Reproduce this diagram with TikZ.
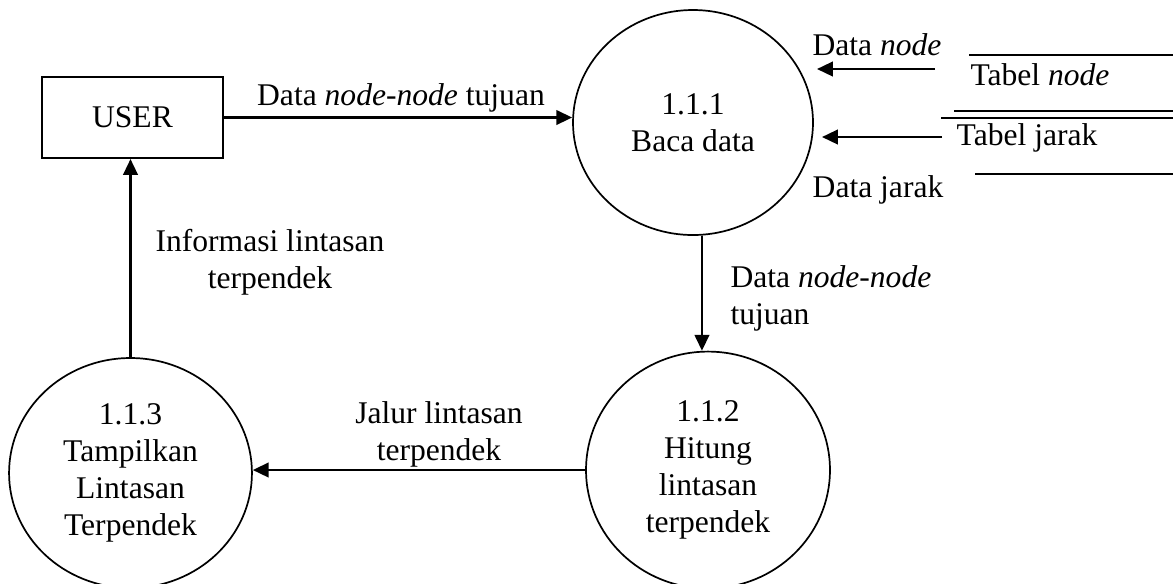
\documentclass[tikz,border=0pt]{standalone}
\usepackage{fontspec}
\setmainfont{Liberation Serif}
\usetikzlibrary{shapes.geometric,arrows.meta}
\begin{document}
\begin{tikzpicture}[x=0.38pt,y=-0.38pt,
  every node/.style={font=\fontsize{12}{14}\selectfont},
  proc/.style={draw,line width=0.65pt,ellipse,inner sep=0pt,align=center},
  entity/.style={draw,line width=0.75pt,rectangle,inner sep=0pt,minimum width=68.8pt,minimum height=30.8pt},
  flow/.style={line width=0.9pt,-{Triangle[length=6pt,width=5.5pt]}},
  storeline/.style={line width=0.75pt},
  lbl/.style={inner sep=0pt,align=center}
]
\useasboundingbox (0,0) rectangle (1173,583);

% nodes
\node[entity] (user) at (132.5,117.5) {USER};
\node[proc,minimum width=91.2pt,minimum height=85.5pt] (p111) at (693,122.5) {1.1.1\\Baca data};
\node[proc,minimum width=92.7pt,minimum height=90pt] (p112) at (708,470) {1.1.2\\Hitung\\lintasan\\terpendek};
\node[proc,minimum width=92.3pt,minimum height=87.4pt] (p113) at (130.5,473) {1.1.3\\Tampilkan\\Lintasan\\Terpendek};

% data stores
\draw[storeline] (969,55) -- (1173,55);
\node[lbl] (tnode) at (1040,75) {Tabel \textit{node}};
\draw[storeline] (954,111) -- (1173,111);
\draw[storeline] (941,118) -- (1173,118);
\node[lbl] (tjarak) at (1027,138) {Tabel jarak};
\draw[storeline] (975,174) -- (1173,174);

% store flows
\coordinate (dnS) at (935,69);
\coordinate (dnE) at (817,69);
\coordinate (djS) at (942,137);
\coordinate (djE) at (822,137);
\draw[flow] (dnS) -- (dnE);
\draw[flow] (djS) -- (djE);
\node[lbl] (ldn) at (877,45) {Data \textit{node}};
\node[lbl] (ldj) at (878,190) {Data jarak};

% flows between nodes
\draw[flow] (user.east) -- (user.east -| p111.west);
\node[lbl] (l1) at (401,98) {Data \textit{node-node} tujuan};

\draw[flow] ([xshift=3.4pt]p111.south) -- ([xshift=3.4pt]p111.south |- p112.north);
\node[lbl,anchor=west,align=left] (l2) at (730,298) {Data \textit{node-node}\\tujuan};

\draw[flow] (p112.west) -- (p112.west -| p113.east);
\node[lbl] (l3) at (439,434) {Jalur lintasan\\terpendek};

\draw[flow] (p113.north) -- (p113.north |- user.south);
\node[lbl] (l4) at (270,262) {Informasi lintasan\\terpendek};
\end{tikzpicture}
\end{document}
